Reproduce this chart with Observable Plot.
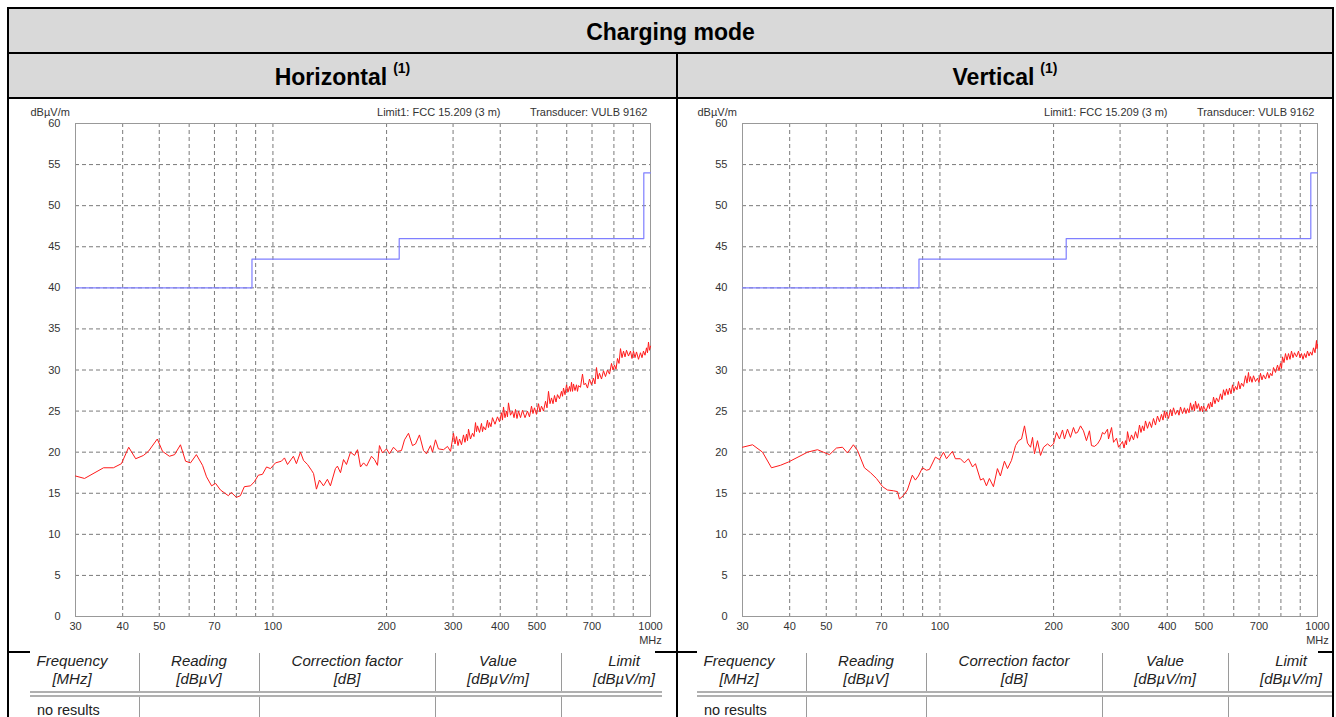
<!DOCTYPE html>
<html>
<head>
<meta charset="utf-8">
<script src="https://cdn.jsdelivr.net/npm/d3@7"></script>
<script src="https://cdn.jsdelivr.net/npm/@observablehq/plot@0.6"></script>
<style>
  html, body { margin: 0; padding: 0; background: #fff; }
  #page { position: relative; width: 1336px; height: 717px; overflow: hidden; font-family: "Liberation Sans", Arial, sans-serif; }
  .abs { position: absolute; }
  .hdr { position: absolute; box-sizing: border-box; padding-top: 3px; background: #d9d9d9; display: flex; align-items: center; justify-content: center; font-weight: bold; font-size: 23px; color: #000; }
  .hdr .sup { font-size: 14px; position: relative; top: -9px; margin-left: 6px; }
  .bl { position: absolute; background: #000; z-index: 5; }
  .tcell { position: absolute; font-style: italic; font-size: 15px; color: #222; text-align: center; line-height: 18px; white-space: nowrap; transform: translateX(-50%); }
  .sep { position: absolute; background: #9a9a9a; width: 1px; }
  .dbl { position: absolute; background: #b0b0b0; height: 2px; }
</style>
</head>
<body>
<div id="page"></div>
<script>
// ---------- data ----------
const title = "Charging mode";
const panelTitles = ["Horizontal", "Vertical"];
const noteMark = "(1)";
const limitLabel = "Limit1: FCC 15.209 (3 m)";
const transducerLabel = "Transducer: VULB 9162";
const yUnit = "dBµV/m";
const xUnit = "MHz";

const xTicks = [30, 40, 50, 70, 100, 200, 300, 400, 500, 700, 1000];
const xGrid = [40, 50, 60, 70, 80, 90, 100, 200, 300, 400, 500, 600, 700, 800, 900];
const yTicks = [0, 5, 10, 15, 20, 25, 30, 35, 40, 45, 50, 55, 60];
const yGrid = [5, 10, 15, 20, 25, 30, 35, 40, 45, 50, 55];

// FCC 15.209 (3 m) limit, step line
const limitFreq = [30, 88, 216, 960, 1000];
const limitLevel = [40, 43.5, 46, 54, 54];

// Horizontal polarisation trace (MHz, dBµV/m)
const hFreq = [30,31.7,35.6,37.8,39.7,41.5,43.3,45.4,46.8,49.4,
51.0,53.2,54.9,56.9,58.7,60.5,62.7,65.1,66.7,68.8,
70.5,72.6,76.2,77.6,80.0,82.0,84.0,87.2,89.3,91.5,
93.8,96.2,98.5,101.6,105.3,107.3,109.3,113.3,115.4,118.3,
120.5,123.5,126.5,128.1,130.4,132.8,136.1,139.4,142.0,146.4,
148.2,151.0,153.8,156.6,160.5,164.5,167.5,170.6,173.8,177.0,
182.4,185.8,189.2,191.5,195.1,199.9,203.6,208.6,213.7,219.0,
223.1,228.6,234.2,238.6,244.4,250.5,255.1,261.4,264.6,269.5,
274.4,283.0,290.0,295.4,
300.8,303.6,306.4,309.2,312.0,315.8,319.7,322.6,325.6,327.6,
329.6,333.6,337.7,340.8,344.0,346.1,348.2,352.5,356.8,359.0,
361.2,365.6,370.1,372.3,374.6,378.0,381.5,387.4,393.3,398.2,
403.1,405.5,408.0,411.7,415.5,418.0,420.6,425.8,431.0,435.0,
439.0,443.0,447.1,452.6,458.2,465.2,472.3,478.1,484.0,488.4,
492.9,498.9,505.1,509.7,514.4,520.8,527.2,532.0,536.9,541.8,
546.8,551.8,556.9,562.0,567.1,574.1,581.1,584.7,588.3,593.7,
599.1,604.6,610.2,613.9,617.7,621.5,625.3,631.0,636.8,640.7,
644.6,652.5,660.5,666.6,672.7,681.0,689.3,697.8,706.3,712.8,
719.4,726.0,732.6,741.7,750.8,760.0,769.3,778.8,788.4,795.6,
802.9,810.3,817.7,825.2,832.8,840.5,848.2,856.0,863.9,874.5,
885.2,893.3,901.5,909.8,918.2,929.4,940.8,949.5,958.2,967.0,
975.9,981.8,987.8,993.9,1000];
const hLevel = [17.1,16.8,18.1,18.1,18.6,20.6,19.2,19.6,20.1,21.6,
20.1,19.5,19.7,20.9,18.9,18.7,19.7,18.4,17.0,15.9,
16.2,15.4,14.7,15.1,14.5,14.7,15.8,15.9,16.4,17.2,
17.3,18.2,18.0,18.7,18.9,19.3,18.5,19.5,18.6,20.0,
19.0,18.5,17.8,17.4,15.5,16.6,15.9,16.7,15.9,18.0,
18.3,17.5,19.1,18.5,20.0,19.6,20.3,18.2,18.7,18.3,
19.5,19.1,18.4,20.8,19.9,20.4,19.8,20.6,20.1,20.2,
21.5,22.3,20.8,21.0,22.1,20.2,19.8,20.8,20.0,21.5,
20.4,20.3,20.7,20.1,
22.3,21.0,21.9,20.8,21.6,20.9,22.1,21.2,22.2,21.4,
22.8,21.6,22.3,21.9,23.6,22.5,23.2,22.4,23.5,22.5,
23.1,22.7,23.9,23.0,23.6,23.1,24.2,23.4,24.3,23.7,
24.8,23.9,25.5,24.2,25.0,24.3,26.0,24.5,25.0,24.2,
25.2,24.1,25.0,24.2,25.1,24.2,25.0,24.3,25.6,24.7,
25.4,24.6,25.9,24.9,25.6,25.0,26.2,25.4,27.4,25.9,
26.6,25.9,26.9,26.1,27.0,26.5,27.4,26.8,27.8,27.0,
28.2,27.3,28.0,27.4,28.5,27.4,28.3,27.5,28.2,27.4,
28.1,27.9,29.5,28.2,28.4,27.8,28.9,28.2,29.0,28.3,
30.3,28.9,29.6,28.9,29.9,29.2,30.0,29.5,30.8,30.0,
30.6,30.1,31.4,30.8,32.6,31.5,32.3,31.6,32.4,31.7,
32.3,31.4,32.3,31.5,32.2,31.3,32.1,31.5,32.3,31.8,
32.7,32.1,33.4,32.4,32.9];

// Vertical polarisation trace (MHz, dBµV/m)
const vFreq = [30,31.9,33.9,35.8,37.8,39.7,44.6,47.4,49.1,51.0,
53.2,55.2,56.9,59.0,60.5,63.1,65.5,67.9,70.5,72.6,
75.3,77.2,78.1,80.0,82.0,84.5,86.1,87.7,89.9,92.1,
93.8,97.3,99.7,102.2,104.1,107.9,109.9,113.3,116.1,119.0,
122.0,124.2,128.1,130.4,132.8,135.2,138.6,142.0,144.6,148.2,
151.0,154.7,158.6,161.5,164.5,167.5,170.6,173.8,175.9,178.0,
181.3,184.7,188.1,192.7,196.3,199.9,203.6,207.3,211.2,213.7,
217.7,221.7,225.8,228.6,231.4,235.7,240.0,244.4,248.9,252.0,
256.6,261.4,266.2,269.5,272.8,277.9,279.6,284.8,288.3,293.6,
297.2,
304.5,307.3,310.1,312.0,313.9,317.8,321.7,325.6,329.6,333.6,
337.7,340.8,344.0,347.1,350.3,354.6,359.0,363.4,367.8,372.3,
376.9,381.5,386.2,389.7,393.3,395.7,398.2,403.1,408.0,411.7,
415.5,420.6,425.8,429.7,433.7,439.0,444.3,448.4,452.6,456.8,
461.0,465.2,469.5,472.3,475.2,479.6,484.0,488.4,492.9,495.9,
499.0,506.7,514.4,517.6,520.8,525.6,530.4,535.2,540.1,546.8,
553.5,558.6,563.7,568.9,574.1,579.4,584.7,590.1,595.5,601.0,
606.5,612.1,617.7,623.4,629.1,636.8,644.6,650.5,656.5,660.5,
664.6,670.7,676.8,685.1,693.5,699.9,706.3,712.8,719.4,728.3,
737.2,744.0,750.8,757.7,764.7,774.1,783.6,790.8,798.0,802.9,
807.8,815.2,822.7,830.3,837.9,845.6,853.4,861.2,869.1,879.8,
890.6,898.8,907.0,915.4,923.8,932.2,940.8,949.5,958.2,967.0,
975.9,984.9,993.9,996.9,1000];
const vLevel = [20.6,20.9,20.0,18.1,18.4,18.8,20.0,20.3,20.0,19.7,
20.5,20.6,19.9,20.9,20.2,18.1,17.5,16.8,15.8,15.4,
15.3,15.2,14.3,14.7,15.4,17.2,16.6,17.1,18.1,17.8,
17.9,19.4,19.1,20.0,19.2,20.1,19.2,19.2,18.7,19.2,
18.2,18.6,16.6,16.8,15.9,16.8,15.8,18.0,17.1,18.9,
18.0,19.0,20.8,21.4,21.6,23.2,21.1,20.6,21.8,19.8,
21.4,19.6,20.6,21.0,20.7,21.0,22.4,21.6,22.7,21.6,
22.8,21.8,23.0,22.3,22.4,23.2,22.6,21.4,22.6,20.8,
20.7,21.0,21.6,22.4,22.2,22.8,21.6,23.0,21.2,21.7,
20.6,
21.3,20.5,21.4,20.9,22.5,21.3,22.1,21.5,22.5,21.7,
23.3,22.4,23.2,22.6,23.8,22.9,23.7,23.0,24.1,23.3,
24.4,23.7,24.6,23.9,25.0,24.2,24.9,24.1,25.2,24.4,
25.4,24.6,25.1,24.5,25.5,24.7,25.4,24.7,25.3,24.8,
26.0,25.1,25.8,25.0,26.2,25.3,25.9,25.0,25.6,24.9,
25.6,25.0,25.9,25.3,26.1,25.5,26.7,25.9,26.6,26.1,
27.1,26.4,27.6,26.9,27.7,27.0,27.8,27.1,28.2,27.4,
28.0,27.6,28.6,27.7,28.4,28.0,29.3,28.4,29.7,28.6,
29.2,28.5,29.3,28.6,29.0,28.5,29.6,28.8,29.4,28.9,
29.7,29.0,29.6,29.3,30.3,29.7,30.6,29.9,30.8,30.2,
31.6,30.9,32.0,31.2,32.0,31.3,32.3,31.5,32.1,31.6,
32.3,31.5,32.0,31.3,32.0,31.5,32.3,31.7,32.2,31.8,
32.7,32.1,33.6,32.6,33.1];

// results table
const tableHeads = [["Frequency", "[MHz]"], ["Reading", "[dBµV]"], ["Correction factor", "[dB]"], ["Value", "[dBµV/m]"], ["Limit", "[dBµV/m]"]];
const noResults = "no results";

// ---------- layout ----------
const page = document.getElementById("page");
function el(cls, css, html) {
  const d = document.createElement("div");
  d.className = cls;
  Object.assign(d.style, css);
  if (html != null) d.innerHTML = html;
  page.appendChild(d);
  return d;
}

el("hdr", {left: "8px", top: "8px", width: "1325px", height: "45px"}, title);
el("hdr", {left: "8px", top: "53px", width: "669px", height: "45px"}, panelTitles[0] + "<span class='sup'>" + noteMark + "</span>");
el("hdr", {left: "677px", top: "53px", width: "656px", height: "45px"}, panelTitles[1] + "<span class='sup'>" + noteMark + "</span>");

const font = "'Liberation Sans', Arial, sans-serif";

function chart(freq, level, width, marginLeft, marginRight) {
  const trace = freq.map((f, i) => ({f, v: level[i]}));
  const limit = limitFreq.map((f, i) => ({f, v: limitLevel[i]}));
  return Plot.plot({
    width, height: 552,
    marginLeft, marginRight, marginTop: 24, marginBottom: 35,
    style: {fontFamily: font, fontSize: "11px", color: "#333", background: "transparent", overflow: "visible"},
    x: {type: "log", domain: [30, 1000], axis: null},
    y: {domain: [0, 60]},
    marks: [
      Plot.ruleX(xGrid, {stroke: "#7a7a7a", strokeDasharray: "4,3", strokeWidth: 1}),
      Plot.ruleY(yGrid, {stroke: "#7a7a7a", strokeDasharray: "4,3", strokeWidth: 1}),
      Plot.frame({stroke: "#999"}),
      Plot.line(limit, {x: "f", y: "v", curve: "step-after", stroke: "#7f7fff", strokeWidth: 1.2}),
      Plot.line(trace, {x: "f", y: "v", stroke: "#ff1a1a", strokeWidth: 1}),
      Plot.text(xTicks, {x: d => d, text: d => String(d), frameAnchor: "bottom", dy: 13, fontSize: 11, fill: "#333"}),
      Plot.axisY({ticks: yTicks, tickSize: 0, tickPadding: 15, label: null, fontSize: 11}),
      Plot.text([xUnit], {text: d => d, frameAnchor: "bottom-right", textAnchor: "middle", dy: 27, fontSize: 11, fill: "#333"}),
      Plot.text([yUnit], {text: d => d, frameAnchor: "top-left", textAnchor: "start", dx: -45, dy: -15, fontSize: 11, fill: "#333"}),
      Plot.text([transducerLabel], {text: d => d, frameAnchor: "top-right", textAnchor: "end", dx: -3, dy: -15, fontSize: 11, fill: "#333"}),
      Plot.text([limitLabel], {text: d => d, frameAnchor: "top-right", textAnchor: "end", dx: -150, dy: -15, fontSize: 11, fill: "#333"})
    ]
  });
}

function place(svg, left) {
  svg.style.position = "absolute";
  svg.style.left = left + "px";
  svg.style.top = "99px";
  page.appendChild(svg);
}
place(chart(hFreq, hLevel, 669, 67, 27), 8);
place(chart(vFreq, vLevel, 656, 65, 16), 677);

// results tables
function resultsTable(dx) {
  const centers = [72, 199, 347, 498, 624];
  const seps = [139, 259, 435, 561];
  el("abs", {left: (30 + dx) + "px", top: "653px", width: "628px", height: "64px", background: "#fff"});
  tableHeads.forEach((h, i) => {
    el("tcell", {left: (centers[i] + dx) + "px", top: "652px"}, h[0] + "<br>" + h[1]);
  });
  seps.forEach(s => {
    el("sep", {left: (s + dx) + "px", top: "653px", height: "38px"});
    el("sep", {left: (s + dx) + "px", top: "697px", height: "20px"});
  });
  el("dbl", {left: (30 + dx) + "px", top: "691px", width: (dx ? 636 : 632) + "px"});
  el("dbl", {left: (30 + dx) + "px", top: "695px", width: (dx ? 636 : 632) + "px"});
  el("abs", {left: (37 + dx) + "px", top: "701px", fontSize: "14.5px", color: "#222", lineHeight: "18px"}, noResults);
}
resultsTable(0);
resultsTable(667);

// black ruling
el("bl", {left: "7px", top: "7px", width: "1327px", height: "2px"});
el("bl", {left: "7px", top: "52px", width: "1327px", height: "2px"});
el("bl", {left: "7px", top: "97px", width: "1327px", height: "2px"});
el("bl", {left: "7px", top: "7px", width: "2px", height: "710px"});
el("bl", {left: "1332px", top: "7px", width: "2px", height: "710px"});
el("bl", {left: "676px", top: "52px", width: "2px", height: "665px"});
el("bl", {left: "7px", top: "651px", width: "23px", height: "2px"});
el("bl", {left: "655px", top: "651px", width: "42px", height: "2px"});
el("bl", {left: "1318px", top: "651px", width: "16px", height: "2px"});
</script>
</body>
</html>
